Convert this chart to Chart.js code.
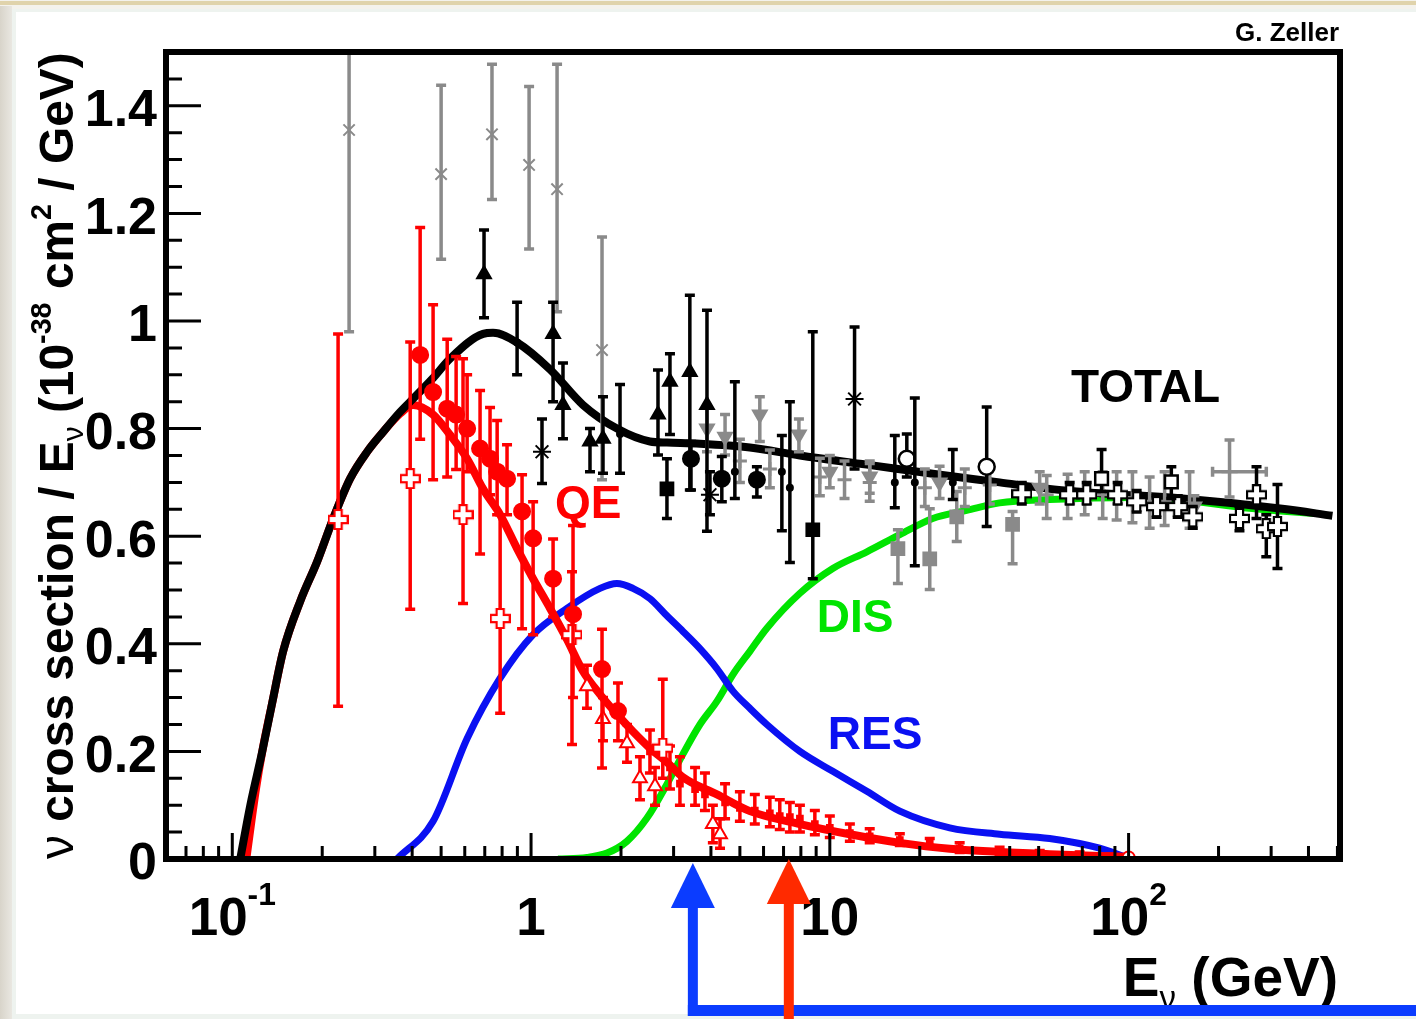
<!DOCTYPE html>
<html>
<head>
<meta charset="utf-8">
<title>Neutrino cross section</title>
<script src="https://cdn.jsdelivr.net/npm/chart.js@4.4.1/dist/chart.umd.min.js"></script>
<style>
  html, body { margin: 0; padding: 0; background: #f2f0ea; }
  #wrap { width: 1416px; height: 1019px; }
</style>
</head>
<body>
<div id="wrap"><canvas id="xsec" width="1416" height="1019"></canvas></div>
<script>
// ---------- axes ----------
const yTicks = [0, 0.2, 0.4, 0.6, 0.8, 1, 1.2, 1.4];
const yTickLabels = ['0', '0.2', '0.4', '0.6', '0.8', '1', '1.2', '1.4'];
const xTicks = [0.1, 1, 10, 100];
const xTickBase = ['10', '1', '10', '10'];
const xTickSup = ['-1', '', '', '2'];
const xDecades = [0.01, 0.1, 1, 10, 100];

// ---------- model curves (E in GeV, sigma/E) ----------
const totalE = [0.1063, 0.1149, 0.126, 0.136, 0.148, 0.1688, 0.1924, 0.2177, 0.248, 0.2828, 0.32, 0.3646, 0.3938, 0.47, 0.5359, 0.691, 0.746, 0.898, 1.157, 1.492, 1.939, 2.50, 2.85, 3.675, 5.40, 7.94, 13.3, 22.1, 37.0, 54.4, 80.0, 151.6, 327, 481];
const totalV = [0, 0.10, 0.20, 0.29, 0.386, 0.479, 0.553, 0.633, 0.707, 0.757, 0.794, 0.831, 0.85, 0.894, 0.93, 0.976, 0.978, 0.96, 0.91, 0.844, 0.80, 0.776, 0.774, 0.772, 0.765, 0.75, 0.733, 0.716, 0.70, 0.688, 0.68, 0.67, 0.651, 0.638];

const qeE = [0.1114, 0.12, 0.126, 0.136, 0.148, 0.1688, 0.1924, 0.2177, 0.248, 0.2828, 0.32, 0.3646, 0.403, 0.47, 0.536, 0.611, 0.691, 0.788, 0.898, 1.016, 1.157, 1.319, 1.492, 1.701, 1.939, 2.193, 2.50, 2.85, 3.224, 4.188, 5.40, 7.94, 11.67, 17.15, 25.2, 54.4, 97];
const qeV = [0, 0.13, 0.20, 0.29, 0.386, 0.479, 0.553, 0.633, 0.707, 0.757, 0.794, 0.828, 0.844, 0.826, 0.788, 0.744, 0.688, 0.64, 0.577, 0.521, 0.466, 0.408, 0.349, 0.306, 0.269, 0.237, 0.206, 0.18, 0.152, 0.12, 0.089, 0.065, 0.046, 0.03, 0.019, 0.009, 0.004];

const resE = [0.356, 0.47, 0.611, 0.788, 1.016, 1.319, 1.701, 1.939, 2.193, 2.50, 2.85, 3.224, 3.675, 4.188, 4.74, 5.40, 6.155, 7.94, 10.23, 13.3, 17.15, 25.2, 37.0, 54.4, 80, 97];
const resV = [0, 0.07, 0.224, 0.336, 0.417, 0.466, 0.503, 0.512, 0.503, 0.484, 0.452, 0.423, 0.391, 0.354, 0.312, 0.28, 0.25, 0.20, 0.163, 0.126, 0.089, 0.058, 0.046, 0.038, 0.02, 0.004];

const disE = [1.231, 1.539, 1.796, 2.095, 2.443, 2.85, 3.224, 3.675, 4.188, 4.74, 5.40, 6.155, 7.94, 10.23, 13.3, 17.15, 22.1, 28.7, 37, 54.4, 103, 151.6, 254, 425];
const disV = [0, 0.003, 0.011, 0.033, 0.076, 0.139, 0.195, 0.25, 0.293, 0.343, 0.386, 0.429, 0.494, 0.54, 0.571, 0.603, 0.633, 0.648, 0.662, 0.668, 0.672, 0.667, 0.652, 0.642];

// ---------- measurements: E, value, error low, error high ----------
// QE data (red)
const qdotE = [0.4254, 0.470, 0.524, 0.5613, 0.611, 0.675, 0.729, 0.77, 0.831, 0.933, 1.016, 1.185, 1.382, 1.728, 1.954];
const qdotV = [0.937, 0.868, 0.837, 0.826, 0.80, 0.763, 0.744, 0.72, 0.707, 0.646, 0.596, 0.521, 0.455, 0.353, 0.275];
const qdotLo = [0.78, 0.705, 0.71, 0.724, 0.72, 0.567, 0.677, 0.64, 0.64, 0.428, 0.417, 0.45, 0.30, 0.169, 0.22];
const qdotHi = [1.174, 1.03, 0.966, 0.934, 0.90, 0.871, 0.839, 0.815, 0.77, 0.714, 0.664, 0.595, 0.62, 0.427, 0.327];

const qcrE = [0.226, 0.394, 0.592, 0.788, 1.371, 2.76];
const qcrV = [0.631, 0.707, 0.64, 0.447, 0.417, 0.206];
const qcrLo = [0.284, 0.464, 0.475, 0.271, 0.213, 0.15];
const qcrHi = [0.976, 0.961, 0.93, 0.64, 0.534, 0.334];

const qtriE = [1.539, 1.741, 2.095, 2.315, 2.60, 4.06, 4.29];
const qtriV = [0.321, 0.26, 0.215, 0.15, 0.135, 0.065, 0.046];
const qtriLo = [0.28, 0.22, 0.18, 0.11, 0.10, 0.03, 0.02];
const qtriHi = [0.36, 0.30, 0.25, 0.19, 0.17, 0.10, 0.075];

const qsmE = [2.50, 2.917, 3.15, 3.54, 3.82, 4.46, 5.0, 5.61, 6.30, 6.80, 7.35, 7.94, 8.91, 10.0, 11.67, 13.6, 17.15, 21.6, 27.2, 37.0, 50.4, 68.6, 86.4];
const qsmV = [0.20, 0.17, 0.14, 0.13, 0.12, 0.105, 0.095, 0.09, 0.085, 0.08, 0.078, 0.075, 0.065, 0.058, 0.048, 0.042, 0.035, 0.028, 0.02, 0.015, 0.01, 0.008, 0.005];
const qsmLo = [0.16, 0.13, 0.10, 0.10, 0.09, 0.075, 0.07, 0.065, 0.06, 0.055, 0.05, 0.05, 0.045, 0.04, 0.033, 0.03, 0.025, 0.02, 0.012, 0.008, 0.004, 0.003, 0.001];
const qsmHi = [0.24, 0.21, 0.19, 0.17, 0.16, 0.14, 0.125, 0.12, 0.115, 0.11, 0.105, 0.10, 0.09, 0.08, 0.065, 0.056, 0.047, 0.038, 0.03, 0.022, 0.016, 0.013, 0.009];

const qendE = [100];
const qendV = [0.003];

// total data (black)
const btriE = [0.696, 1.185, 1.279, 1.575, 1.741, 2.66, 2.917, 3.40, 3.88];
const btriV = [1.087, 0.976, 0.844, 0.776, 0.781, 0.826, 0.887, 0.905, 0.844];
const btriLo = [1.006, 0.85, 0.781, 0.72, 0.717, 0.751, 0.789, 0.686, 0.609];
const btriHi = [1.169, 1.035, 0.922, 0.80, 0.859, 0.909, 0.939, 1.048, 1.02];

const bdotE = [3.43, 4.35, 5.70];
const bdotV = [0.744, 0.707, 0.705];
const bdotLo = [0.686, 0.664, 0.673];
const bdotHi = [0.776, 0.748, 0.729];

const bsqE = [2.85, 8.77];
const bsqV = [0.688, 0.612];
const bsqLo = [0.633, 0.521];
const bsqHi = [0.744, 0.98];

const bstarE = [1.088, 3.97, 12.1];
const bstarV = [0.757, 0.677, 0.855];
const bstarLo = [0.698, 0.64, 0.725];
const bstarHi = [0.818, 0.72, 0.989];

const bbarE = [0.898, 1.985, 4.81, 6.91, 7.35, 16.5, 19.25, 25.8];
const bbarV = [0.96, 0.79, 0.72, 0.72, 0.69, 0.70, 0.70, 0.70];
const bbarLo = [0.90, 0.717, 0.67, 0.61, 0.551, 0.653, 0.545, 0.668];
const bbarHi = [1.035, 0.882, 0.887, 0.787, 0.85, 0.787, 0.857, 0.761];

const bocE = [18.1, 33.5];
const bocV = [0.744, 0.729];
const bocLo = [0.71, 0.618];
const bocHi = [0.79, 0.84];

const bosE = [81.2, 139];
const bosV = [0.707, 0.701];
const bosLo = [0.683, 0.67];
const bosHi = [0.761, 0.729];

const bocrE = [43.9, 63.5, 72.4, 91.9, 106.4, 124, 146, 164, 235, 268, 289, 315];
const bocrV = [0.679, 0.677, 0.677, 0.677, 0.664, 0.655, 0.655, 0.636, 0.633, 0.677, 0.614, 0.618];
const bocrLo = [0.66, 0.66, 0.66, 0.66, 0.645, 0.635, 0.635, 0.615, 0.61, 0.633, 0.562, 0.54];
const bocrHi = [0.70, 0.70, 0.70, 0.70, 0.685, 0.675, 0.675, 0.655, 0.655, 0.729, 0.64, 0.696];

// total data (gray)
const gxE = [0.246, 0.50, 0.74, 0.985, 1.222, 1.728];
const gxV = [1.355, 1.273, 1.347, 1.29, 1.245, 0.946];
const gxLo = [0.98, 1.115, 1.226, 1.134, 1.017, 0.705];
const gxHi = [1.50, 1.438, 1.477, 1.436, 1.477, 1.156];

const gtriE = [3.88, 4.46, 5.83, 7.88, 10.0, 13.6, 23.3, 50.4, 166];
const gtriV = [0.80, 0.785, 0.826, 0.789, 0.72, 0.711, 0.70, 0.69, 0.655];
const gtriLo = [0.757, 0.751, 0.776, 0.757, 0.69, 0.68, 0.67, 0.66, 0.635];
const gtriHi = [0.84, 0.826, 0.859, 0.818, 0.75, 0.74, 0.73, 0.72, 0.675];

const gsqE = [16.9, 21.6, 26.6, 40.9];
const gsqV = [0.577, 0.558, 0.636, 0.622];
const gsqLo = [0.512, 0.501, 0.59, 0.549];
const gsqHi = [0.612, 0.651, 0.683, 0.646];

const gcrE = [5.0, 6.30, 9.26, 11.2, 13.6, 20.8, 28.3, 34.3, 53.2, 62.5, 71.3, 81.9, 91.2, 103, 117.6, 132, 160];
const gcrV = [0.74, 0.725, 0.71, 0.705, 0.70, 0.69, 0.69, 0.695, 0.677, 0.68, 0.677, 0.677, 0.675, 0.672, 0.665, 0.665, 0.66];
const gcrLo = [0.70, 0.69, 0.675, 0.67, 0.665, 0.655, 0.655, 0.66, 0.633, 0.633, 0.64, 0.633, 0.63, 0.625, 0.615, 0.62, 0.615];
const gcrHi = [0.78, 0.76, 0.745, 0.74, 0.735, 0.725, 0.725, 0.73, 0.713, 0.715, 0.72, 0.72, 0.72, 0.72, 0.71, 0.72, 0.72];

const ghE = [217.7];
const ghV = [0.72];
const ghLo = [0.673];
const ghHi = [0.779];
const ghELo = [191];
const ghEHi = [289];

// ---------- helpers ----------
const FONT = '"Liberation Sans", Arial, Helvetica, sans-serif';
const RED = '#ff0000', BLACK = '#000000', GRAY = '#8a8a8a';
const BLUE = '#0a10f2', GREEN = '#00e400';

const pts = (E, V, lo, hi, xlo, xhi) => E.map((e, i) => ({
  x: e, y: V[i],
  lo: lo ? lo[i] : null, hi: hi ? hi[i] : null,
  xlo: xlo ? xlo[i] : null, xhi: xhi ? xhi[i] : null
}));

function openCross(color) {
  const s = 21, m = s / 2, a = 3.6;
  const c = document.createElement('canvas');
  c.width = s; c.height = s;
  const g = c.getContext('2d');
  g.beginPath();
  g.moveTo(m - a, 1); g.lineTo(m + a, 1); g.lineTo(m + a, m - a); g.lineTo(s - 1, m - a);
  g.lineTo(s - 1, m + a); g.lineTo(m + a, m + a); g.lineTo(m + a, s - 1); g.lineTo(m - a, s - 1);
  g.lineTo(m - a, m + a); g.lineTo(1, m + a); g.lineTo(1, m - a); g.lineTo(m - a, m - a);
  g.closePath();
  g.fillStyle = '#fff'; g.fill();
  g.lineWidth = 2.2; g.strokeStyle = color; g.stroke();
  return c;
}

function marks(data, color, style, extra) {
  return Object.assign({
    data, showLine: false, errColor: color, order: 1,
    pointStyle: style, pointRadius: 8, pointBorderWidth: 2,
    pointBackgroundColor: color, pointBorderColor: color, pointHoverRadius: 8
  }, extra || {});
}

function curve(data, color, width, order) {
  return {
    data, showLine: true, borderColor: color, borderWidth: width,
    pointRadius: 0, pointHoverRadius: 0, cubicInterpolationMode: 'monotone', order
  };
}

function rich(g, parts, x, y, F, align, measureOnly) {
  const fontOf = p => `${p.w || 'bold'} ${F * (p.s || 1)}px ${FONT}`;
  let total = 0;
  parts.forEach(p => { g.font = fontOf(p); p._w = g.measureText(p.t).width; total += p._w; });
  if (measureOnly) return total;
  let cx = align === 'right' ? x - total : align === 'center' ? x - total / 2 : x;
  g.textAlign = 'left';
  g.textBaseline = 'alphabetic';
  parts.forEach(p => { g.font = fontOf(p); g.fillText(p.t, cx, y + (p.dy || 0) * F); cx += p._w; });
  return total;
}

// ---------- plugins ----------
const panel = {
  id: 'panel',
  beforeDraw(chart) {
    const g = chart.ctx, W = chart.width, H = chart.height;
    g.save();
    g.fillStyle = '#f4f2ec'; g.fillRect(0, 0, W, H);
    g.fillStyle = '#e0d3ab'; g.fillRect(0, 1, W, 4);
    const grad = g.createLinearGradient(0, 0, 12, 0);
    grad.addColorStop(0, '#d8d4ca'); grad.addColorStop(1, '#e9e7e1');
    g.fillStyle = grad; g.fillRect(0, 6, 12, H - 6);
    g.fillStyle = '#eef3ef'; g.fillRect(12, 9, W - 12, H - 9);
    g.fillStyle = '#ffffff'; g.fillRect(16, 12, W - 16, 1002);
    g.restore();
  }
};

const errbars = {
  id: 'errbars',
  beforeDatasetDraw(chart, args) {
    const ds = chart.data.datasets[args.index];
    if (!ds.errColor) return;
    const g = chart.ctx, xs = chart.scales.x, ys = chart.scales.y, a = chart.chartArea;
    const cap = 5;
    g.save();
    g.beginPath(); g.rect(a.left, a.top, a.right - a.left, a.bottom - a.top); g.clip();
    g.strokeStyle = ds.errColor; g.lineWidth = 3.5;
    args.meta.data.forEach((pt, i) => {
      const d = ds.data[i];
      g.beginPath();
      if (d.lo != null) {
        const y1 = ys.getPixelForValue(d.lo), y2 = ys.getPixelForValue(d.hi);
        g.moveTo(pt.x, y1); g.lineTo(pt.x, y2);
        g.moveTo(pt.x - cap, y1); g.lineTo(pt.x + cap, y1);
        g.moveTo(pt.x - cap, y2); g.lineTo(pt.x + cap, y2);
      }
      if (d.xlo != null) {
        const x1 = xs.getPixelForValue(d.xlo), x2 = xs.getPixelForValue(d.xhi);
        g.moveTo(x1, pt.y); g.lineTo(x2, pt.y);
        g.moveTo(x1, pt.y - cap); g.lineTo(x1, pt.y + cap);
        g.moveTo(x2, pt.y - cap); g.lineTo(x2, pt.y + cap);
      }
      g.stroke();
    });
    g.restore();
  }
};

const decor = {
  id: 'decor',
  afterDraw(chart) {
    const g = chart.ctx, a = chart.chartArea, xs = chart.scales.x, ys = chart.scales.y;
    g.save();

    // inward ticks
    g.strokeStyle = '#000'; g.lineWidth = 3;
    g.beginPath();
    for (let i = 0; i < 30; i++) {
      const v = i * 0.05, y = ys.getPixelForValue(v);
      const len = i % 4 === 0 ? 35 : 16;
      g.moveTo(a.left, y); g.lineTo(a.left + len, y);
    }
    xDecades.forEach(d => {
      for (let k = 1; k <= 9; k++) {
        const v = d * k;
        if (v <= xs.min || v >= xs.max) continue;
        const x = xs.getPixelForValue(v);
        g.moveTo(x, a.bottom); g.lineTo(x, a.bottom - (k === 1 ? 26 : 13));
      }
    });
    g.stroke();

    // frame
    g.lineWidth = 6;
    g.strokeRect(a.left, a.top, a.right - a.left, a.bottom - a.top);

    // x tick labels with superscripts
    g.fillStyle = '#000';
    xTicks.forEach((v, i) => {
      const parts = [{ t: xTickBase[i] }];
      if (xTickSup[i]) parts.push({ t: xTickSup[i], s: 0.6, dy: -0.57 });
      rich(g, parts, xs.getPixelForValue(v), 935, 53, 'center');
    });

    // x title
    rich(g, [{ t: 'E' }, { t: 'ν', s: 0.6, dy: 0.24, w: 'normal' }, { t: ' (GeV)' }], 1338, 996, 55, 'right');

    // y title, rotated, fitted between axis bottom and top
    const yParts = [
      { t: 'ν', w: 'normal' }, { t: ' cross section / E' }, { t: 'ν', s: 0.62, dy: 0.2, w: 'normal' },
      { t: ' (10' }, { t: '-38', s: 0.6, dy: -0.45 }, { t: ' cm' }, { t: '2', s: 0.6, dy: -0.45 }, { t: ' / GeV)' }
    ];
    const span = a.bottom - a.top;
    const F = 46 * span / rich(g, yParts, 0, 0, 46, 'left', true);
    g.save();
    g.translate(73, a.bottom);
    g.rotate(-Math.PI / 2);
    rich(g, yParts, 0, 0, F, 'left');
    g.restore();

    // author tag
    g.font = `bold 26px ${FONT}`; g.textAlign = 'right'; g.textBaseline = 'alphabetic';
    g.fillText('G. Zeller', 1339, 41);

    // curve labels
    const lab = (t, color, e, v, align) => {
      g.fillStyle = color; g.font = `bold 46px ${FONT}`; g.textAlign = align;
      g.fillText(t, xs.getPixelForValue(e), ys.getPixelForValue(v));
    };
    lab('TOTAL', BLACK, 114, 0.849, 'center');
    lab('QE', RED, 1.203, 0.634, 'left');
    lab('DIS', GREEN, 9.05, 0.422, 'left');
    lab('RES', BLUE, 9.85, 0.2045, 'left');

    // energy arrows below the axis
    const arrow = (e, tipY, endY, color) => {
      const x = xs.getPixelForValue(e);
      g.fillStyle = color;
      g.beginPath(); g.moveTo(x, tipY); g.lineTo(x - 22, tipY + 45); g.lineTo(x + 22, tipY + 45); g.closePath(); g.fill();
      g.fillRect(x - 5, tipY + 44, 10, endY - tipY - 44);
      return x;
    };
    const bx = arrow(3.48, a.bottom + 4, 1016, '#0b3cff');
    g.fillRect(bx - 5, 1005, chart.width - bx + 5, 11);
    arrow(7.29, a.bottom, chart.height, '#ff2a00');

    g.restore();
  }
};

// ---------- chart ----------
const ctx = document.getElementById('xsec');

new Chart(ctx, {
  type: 'scatter',
  data: {
    datasets: [
      marks(pts(qendE, qendV), RED, 'circle', { pointRadius: 6, pointBackgroundColor: '#fff', order: 0 }),
      marks(pts(qdotE, qdotV, qdotLo, qdotHi), RED, 'circle', { order: 0 }),
      marks(pts(qcrE, qcrV, qcrLo, qcrHi), RED, openCross(RED), { pointRadius: 10, order: 0 }),
      marks(pts(qtriE, qtriV, qtriLo, qtriHi), RED, 'triangle', { pointBackgroundColor: '#fff', order: 0 }),
      marks(pts(qsmE, qsmV, qsmLo, qsmHi), RED, 'rect', { pointRadius: 4, order: 0 }),

      marks(pts(btriE, btriV, btriLo, btriHi), BLACK, 'triangle'),
      marks(pts(bdotE, bdotV, bdotLo, bdotHi), BLACK, 'circle'),
      marks(pts(bsqE, bsqV, bsqLo, bsqHi), BLACK, 'rect', { pointRadius: 9 }),
      marks(pts(bstarE, bstarV, bstarLo, bstarHi), BLACK, 'star', { pointRadius: 9 }),
      marks(pts(bbarE, bbarV, bbarLo, bbarHi), BLACK, 'circle', { pointRadius: 3 }),
      marks(pts(bocE, bocV, bocLo, bocHi), BLACK, 'circle', { pointBackgroundColor: '#fff', pointBorderWidth: 2.5 }),
      marks(pts(bosE, bosV, bosLo, bosHi), BLACK, 'rect', { pointRadius: 9, pointBackgroundColor: '#fff', pointBorderWidth: 2.5 }),
      marks(pts(bocrE, bocrV, bocrLo, bocrHi), BLACK, openCross(BLACK), { pointRadius: 10 }),

      marks(pts(gxE, gxV, gxLo, gxHi), GRAY, 'crossRot', { order: 2 }),
      marks(pts(gtriE, gtriV, gtriLo, gtriHi), GRAY, 'triangle', { pointRotation: 180, order: 2 }),
      marks(pts(gsqE, gsqV, gsqLo, gsqHi), GRAY, 'rect', { pointRadius: 9, order: 2 }),
      marks(pts(gcrE, gcrV, gcrLo, gcrHi), GRAY, 'cross', { pointRadius: 7, pointBorderWidth: 3, order: 2 }),
      marks(pts(ghE, ghV, ghLo, ghHi, ghELo, ghEHi), GRAY, 'cross', { pointRadius: 8, pointBorderWidth: 3, order: 2 }),

      curve(pts(totalE, totalV), BLACK, 8, 10),
      curve(pts(qeE, qeV), RED, 8, 11),
      curve(pts(resE, resV), BLUE, 7, 12),
      curve(pts(disE, disV), GREEN, 7, 13)
    ]
  },
  options: {
    responsive: false,
    animation: false,
    devicePixelRatio: 1,
    events: [],
    layout: { padding: { left: 10, right: 76, top: 52, bottom: 0 } },
    plugins: { legend: { display: false }, tooltip: { enabled: false } },
    scales: {
      x: {
        type: 'logarithmic', min: 0.06, max: 510,
        grid: { display: false, drawTicks: false },
        border: { display: false },
        ticks: { display: false },
        afterFit: s => { s.height = 160; }
      },
      y: {
        min: 0, max: 1.5,
        grid: { display: false, drawTicks: false },
        border: { display: false },
        afterBuildTicks: s => { s.ticks = yTicks.map(v => ({ value: v })); },
        ticks: {
          padding: 9, labelOffset: 6, color: '#000',
          font: { family: FONT, size: 52, weight: 'bold' },
          callback: (v, i) => yTickLabels[i]
        },
        afterFit: s => { s.width = 156; }
      }
    }
  },
  plugins: [panel, errbars, decor]
});
</script>
</body>
</html>
